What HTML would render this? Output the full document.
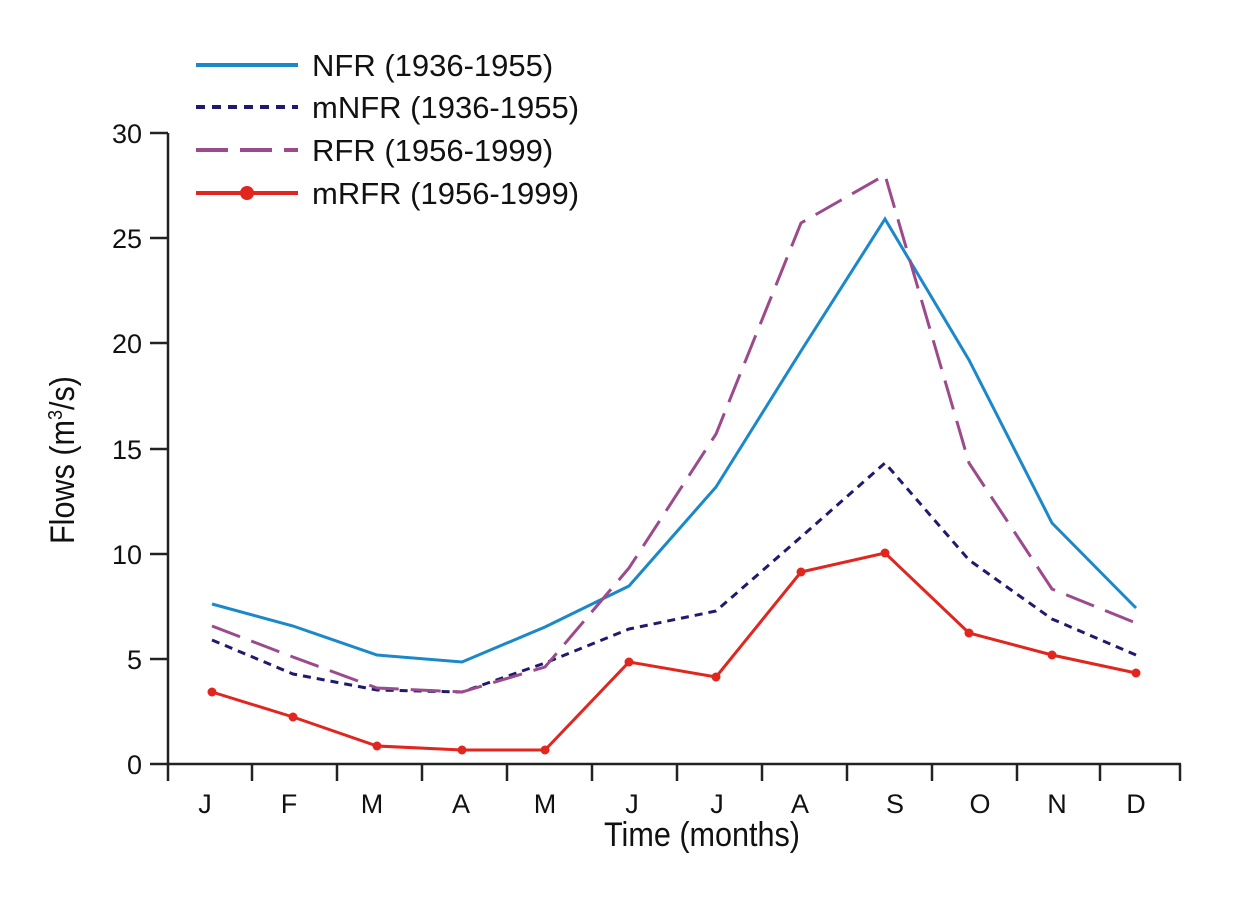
<!DOCTYPE html>
<html><head><meta charset="utf-8"><style>body{margin:0;background:#fff}</style></head><body>
<svg width="1260" height="912" xmlns="http://www.w3.org/2000/svg" font-family="Liberation Sans, sans-serif">
<rect width="1260" height="912" fill="#fff"/>
<g stroke="#222" stroke-width="2.5" fill="none">
<line x1="168" y1="133" x2="168" y2="765"/>
<line x1="167" y1="764" x2="1181" y2="764"/>
<line x1="150" y1="133" x2="168" y2="133"/><line x1="150" y1="238" x2="168" y2="238"/><line x1="150" y1="343" x2="168" y2="343"/><line x1="150" y1="449" x2="168" y2="449"/><line x1="150" y1="554" x2="168" y2="554"/><line x1="150" y1="659" x2="168" y2="659"/><line x1="150" y1="764" x2="168" y2="764"/>
<line x1="168" y1="764" x2="168" y2="781"/><line x1="252" y1="764" x2="252" y2="781"/><line x1="337" y1="764" x2="337" y2="781"/><line x1="422" y1="764" x2="422" y2="781"/><line x1="507" y1="764" x2="507" y2="781"/><line x1="592" y1="764" x2="592" y2="781"/><line x1="677" y1="764" x2="677" y2="781"/><line x1="762" y1="764" x2="762" y2="781"/><line x1="847" y1="764" x2="847" y2="781"/><line x1="932" y1="764" x2="932" y2="781"/><line x1="1017" y1="764" x2="1017" y2="781"/><line x1="1100" y1="764" x2="1100" y2="781"/><line x1="1180" y1="764" x2="1180" y2="781"/>
</g>
<g font-size="27" fill="#111" text-anchor="end">
<text x="142" y="143">30</text><text x="142" y="248">25</text><text x="142" y="353">20</text><text x="142" y="459">15</text><text x="142" y="564">10</text><text x="142" y="669">5</text><text x="142" y="774">0</text>
</g>
<g font-size="27" fill="#111" text-anchor="middle">
<text x="205" y="813">J</text><text x="289" y="813">F</text><text x="372" y="813">M</text><text x="461" y="813">A</text><text x="545" y="813">M</text><text x="632" y="813">J</text><text x="717" y="813">J</text><text x="800" y="813">A</text><text x="895" y="813">S</text><text x="980" y="813">O</text><text x="1057" y="813">N</text><text x="1136" y="813">D</text>
<text x="702" y="846" font-size="34" transform="translate(702,0) scale(0.9,1) translate(-702,0)">Time (months)</text>
<text transform="translate(74,460) rotate(-90) scale(0.9,1)" font-size="34">Flows (m<tspan font-size="20" dy="-12">3</tspan><tspan dy="12">/s)</tspan></text>
</g>
<g fill="none" stroke-width="3">
<polyline stroke="#1a88c9" points="212,604 293,626 377,655 462,662 545,627 629,586 716,487 801,351 885,219 969,360 1052,523 1136,608"/>
<polyline stroke="#1f1a6e" stroke-dasharray="8,6" points="212,640 293,674 377,690 462,692 545,663 629,629 716,611 801,537 885,463 969,560 1052,619 1136,655"/>
<polyline stroke="#9b4a8c" stroke-dasharray="30,12" points="212,626 293,657 377,688 462,692 545,667 629,568 716,434 801,223 885,175 969,463 1052,589 1136,623"/>
<polyline stroke="#e0261f" points="212,692 293,717 377,746 462,750 545,750 629,662 716,677 801,572 885,553 969,633 1052,655 1136,673"/>
</g>
<g fill="#e0261f">
<circle cx="212" cy="692" r="4.5"/><circle cx="293" cy="717" r="4.5"/><circle cx="377" cy="746" r="4.5"/><circle cx="462" cy="750" r="4.5"/><circle cx="545" cy="750" r="4.5"/><circle cx="629" cy="662" r="4.5"/><circle cx="716" cy="677" r="4.5"/><circle cx="801" cy="572" r="4.5"/><circle cx="885" cy="553" r="4.5"/><circle cx="969" cy="633" r="4.5"/><circle cx="1052" cy="655" r="4.5"/><circle cx="1136" cy="673" r="4.5"/>
</g>
<g stroke-width="4" fill="none">
<line x1="196" y1="65" x2="298" y2="65" stroke="#1a88c9"/>
<line x1="196" y1="107" x2="298" y2="107" stroke="#1f1a6e" stroke-dasharray="9,7"/>
<line x1="196" y1="150" x2="298" y2="150" stroke="#9b4a8c" stroke-dasharray="32,12"/>
<line x1="196" y1="193" x2="298" y2="193" stroke="#e0261f"/>
</g>
<circle cx="247" cy="193" r="7" fill="#e0261f"/>
<g font-size="31" fill="#111">
<text x="312" y="76">NFR (1936-1955)</text>
<text x="312" y="118">mNFR (1936-1955)</text>
<text x="312" y="161">RFR (1956-1999)</text>
<text x="312" y="204">mRFR (1956-1999)</text>
</g>
</svg>
</body></html>
